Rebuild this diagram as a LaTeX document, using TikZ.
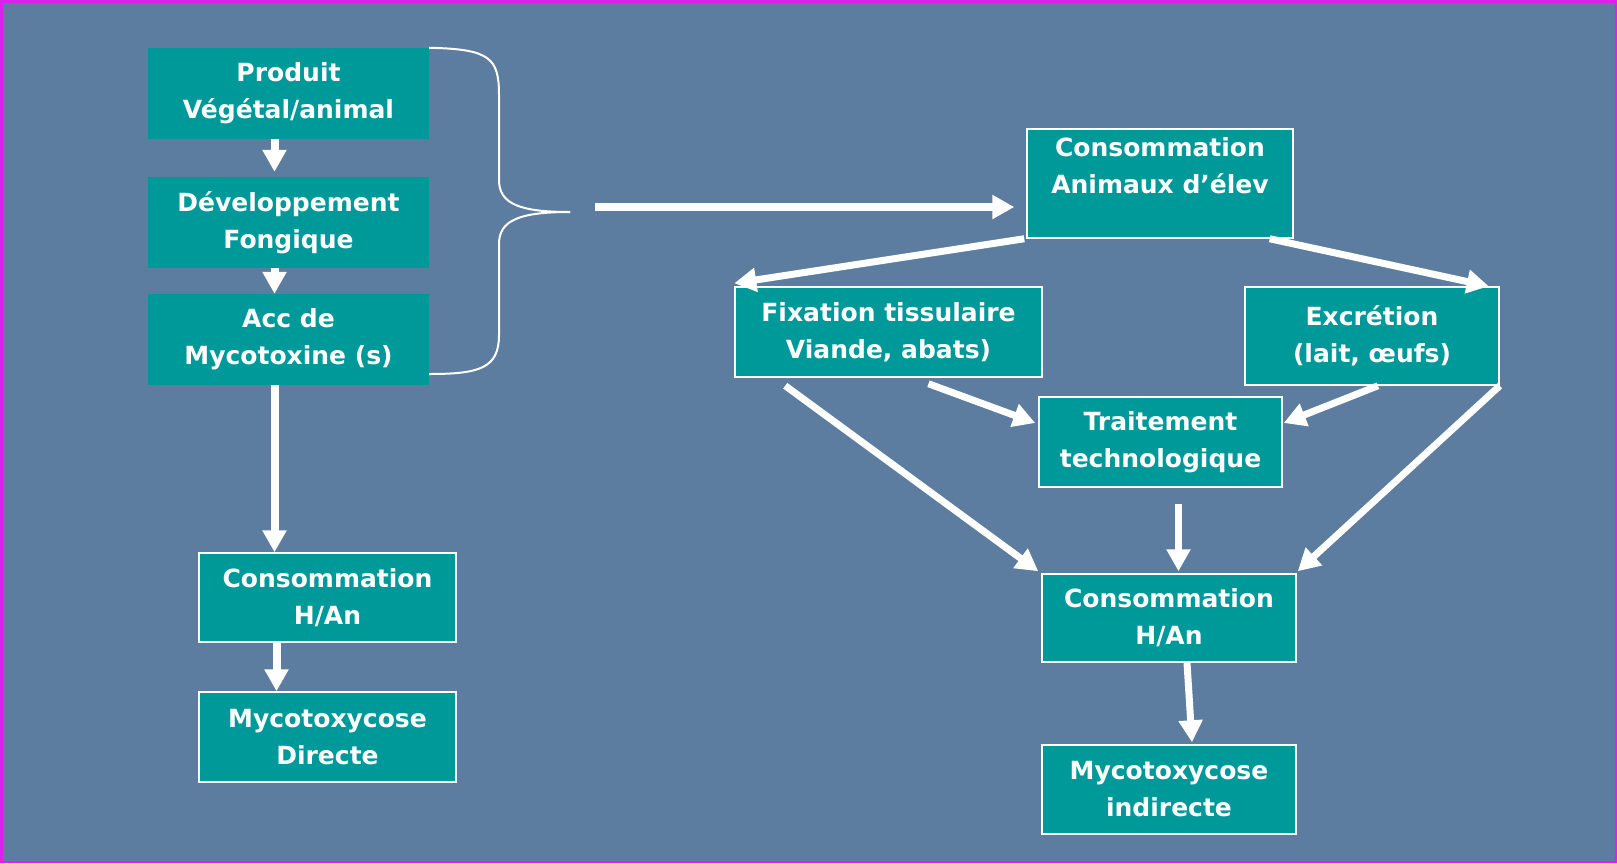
\documentclass[tikz,border=0pt]{standalone}
\usepackage{fontspec}
\setmainfont{DejaVu Sans}
\usepackage{tikz}
\usetikzlibrary{shapes,decorations}
\usetikzlibrary{arrows.meta, positioning}
\definecolor{fond}{HTML}{5C7DA0}
\definecolor{sarcelle}{HTML}{009999}
\definecolor{cadre}{HTML}{E020E8}
\tikzset{
	etape/.style={fill=sarcelle, text=white, font=\fontsize{25}{37}\selectfont\bfseries, align=center, inner sep=0pt},
	bloc/.style={etape, draw=white, line width=1.5pt},
	fleche/.style={-{Triangle[length=22pt,width=23pt]}, white, line width=8pt},
	accolade/.style={white, line width=2pt}
}

\begin{document}
\begin{tikzpicture}[x=1pt,y=-1pt]
					\useasboundingbox (0,0) rectangle (1617,863);
					\fill[fond] (0,0) rectangle (1617,863);
					\draw[cadre, line width=2.5pt] (1.25,1.25) rectangle (1615.75,861.75);
					\node[etape, minimum width=281pt, minimum height=91pt] (prod) at (288.5,93.5) {Produit\\Végétal/animal};
					\node[etape, minimum width=281pt, minimum height=91pt] (dev) at (288.5,222.5) {Développement\\Fongique};
					\node[etape, minimum width=281pt, minimum height=91pt] (acc) at (288.5,339.5) {Acc de\\Mycotoxine (s)};
					\node[bloc, minimum width=257pt, minimum height=89pt] (chg) at (327.5,597.5) {Consommation\\H/An};
					\node[bloc, minimum width=257pt, minimum height=90pt] (mdir) at (327.5,737) {Mycotoxycose\\Directe};
					\node[bloc, minimum width=266pt, minimum height=109pt] (anim) at (1160,183.5) {Consommation\\Animaux d’élev\\\mbox{}};
					\node[bloc, minimum width=307pt, minimum height=90pt] (fix) at (888.5,332) {Fixation tissulaire\\Viande, abats)};
					\node[bloc, minimum width=254pt, minimum height=98pt] (excr) at (1372,336) {Excrétion\\(lait, œufs)};
					\node[bloc, minimum width=243pt, minimum height=90pt] (trait) at (1160.5,442) {Traitement\\technologique};
					\node[bloc, minimum width=254pt, minimum height=88pt] (chd) at (1169,618) {Consommation\\H/An};
					\node[bloc, minimum width=254pt, minimum height=89pt] (mind) at (1169,789.5) {Mycotoxycose\\indirecte};
					\coordinate (pointe) at (570,212);
					\coordinate (depart) at (595,207);
					\draw[accolade] (prod.north east) .. controls (490,49) and (499,58) .. (499,95) -- (499,180) .. controls (499,204) and (520,212) .. (pointe);
					\draw[accolade] (pointe) .. controls (520,212) and (499,220) .. (499,244) -- (499,335) .. controls (499,368) and (480,374) .. (acc.east |- 0,374);
					\draw[fleche] ([xshift=-14pt]prod.south) to ([xshift=-14pt,yshift=5pt]dev.north);
					\draw[fleche] ([xshift=-14pt]dev.south) to ([xshift=-14pt]acc.north);
					\draw[fleche] ([xshift=-14pt]acc.south) to ([xshift=-14pt]acc.south |- chg.north);
					\draw[fleche] ([xshift=-51pt]chg.south) to ([xshift=-51pt]mdir.north);
					\draw[fleche, shorten >=12pt] (depart) to (depart -| anim.west);
					\draw[fleche, line width=7pt] ([xshift=-2pt]anim.south west) to ([yshift=3pt]fix.north west);
					\draw[fleche, line width=7pt] ([xshift=-24pt]anim.south east) to ([xshift=-11pt]excr.north east);
					\draw[fleche, line width=7pt] ([xshift=40pt,yshift=-6pt]fix.south) to ([xshift=-3pt,yshift=19pt]trait.west);
					\draw[fleche, line width=7pt] ([xshift=6pt]excr.south) to ([xshift=1pt,yshift=19pt]trait.east);
					\draw[fleche, line width=7pt] ([xshift=51pt,yshift=-8pt]fix.south west) to ([xshift=-3pt,yshift=2pt]chd.north west);
					\draw[fleche, line width=7pt] (excr.south east) to ([xshift=1pt,yshift=2pt]chd.north east);
					\draw[fleche, line width=7pt, shorten <=16pt] ([xshift=18pt]trait.south) to ([xshift=18pt,yshift=2pt]trait.south |- chd.north);
					\draw[fleche, line width=7pt] ([xshift=18pt]chd.south) to ([xshift=23pt,yshift=2pt]mind.north);
				\end{tikzpicture}
\end{document}
